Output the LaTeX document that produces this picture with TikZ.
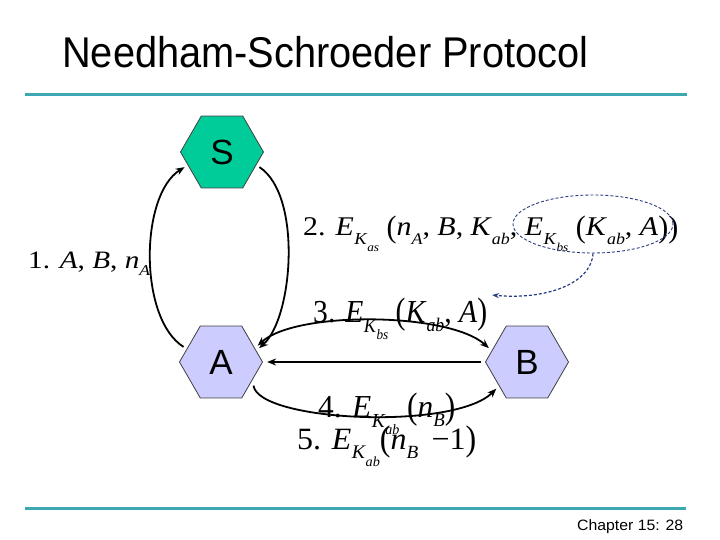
\documentclass[tikz,border=0pt]{standalone}
\usepackage{fontspec}
\setmainfont{Liberation Serif}
\newfontfamily\nsArial{Liberation Sans}
\usepackage{graphicx}
\usetikzlibrary{shapes.geometric,arrows.meta}
\newcommand\nsIt[1]{\textit{#1}}
\newcommand\nsSub[1]{\raisebox{-0.3em}{\scalebox{0.6}{\textit{#1}}}}
\newcommand\nsE[1]{\textit{E}\kern0.02em\raisebox{-0.32em}{\scalebox{0.62}{\textit{K}\kern-0.02em\raisebox{-0.38em}{\scalebox{0.72}{\textit{#1}}}}}}
\newcommand\nsLP{\raisebox{-0.06em}{\scalebox{1}[1.15]{(}}}
\newcommand\nsRP{\raisebox{-0.06em}{\scalebox{1}[1.15]{)}}}
\definecolor{tealline}{RGB}{60,168,178}
\definecolor{sgreen}{RGB}{0,204,153}
\definecolor{lav}{RGB}{204,204,255}
\definecolor{navy}{RGB}{40,60,130}
\begin{document}
\begin{tikzpicture}[x=1pt,y=-1pt,
  hexa/.style={regular polygon, regular polygon sides=6, minimum size=83pt, inner sep=0pt, outer sep=4pt, draw=black!75, line width=0.8pt, font=\nsArial\fontsize{35}{35}\selectfont},
  conn/.style={line width=1.8pt, -{Stealth[length=9pt,width=7pt]}},
  lbl/.style={anchor=base west, inner sep=0pt},
  rule/.style={line width=3pt, draw=tealline}]
\useasboundingbox (0,0) rectangle (720,540);
\fill[white] (0,0) rectangle (720,540);
% title and rules
\node[lbl, font=\nsArial\fontsize{43}{48}\selectfont] (title) at (62,68) {\resizebox{526pt}{\height}{Needham-Schroeder Protocol}};
\coordinate (r1a) at (25,95); \coordinate (r1b) at (687,95);
\draw[rule] (r1a) -- (r1b);
\coordinate (r2a) at (25,508); \coordinate (r2b) at (686,508);
\draw[rule] (r2a) -- (r2b);
\node[lbl, font=\nsArial\fontsize{15}{18}\selectfont] (foot) at (577,530) {\resizebox{106pt}{\height}{Chapter 15: 28}};
% labels
\node[lbl, font=\fontsize{25}{28}\selectfont] (l1) at (28,268) {\resizebox{122pt}{\height}{1. \nsIt{A}, \nsIt{B}, \nsIt{n}\nsSub{A}}};
\node[lbl, font=\fontsize{27}{30}\selectfont] (l2) at (303,236) {\resizebox{375pt}{\height}{2. \nsE{as} \nsLP\nsIt{n}\nsSub{A}, \nsIt{B}, \nsIt{K}\nsSub{ab}, \nsE{bs} \nsLP\nsIt{K}\nsSub{ab}, \nsIt{A}\nsRP\nsRP}};
\node[lbl, font=\fontsize{32}{36}\selectfont] (l3) at (313,322) {\resizebox{174pt}{\height}{3. \nsE{bs} \nsLP\nsIt{K}\nsSub{ab}, \nsIt{A}\nsRP}};
\node[lbl, font=\fontsize{32}{36}\selectfont] (l4) at (318,417) {\resizebox{137pt}{\height}{4. \nsE{ab} \nsLP\nsIt{n}\nsSub{B}\nsRP}};
\node[lbl, font=\fontsize{31}{36}\selectfont] (l5) at (297,449) {\resizebox{179pt}{\height}{5. \nsE{ab}\nsLP\nsIt{n}\nsSub{B} \,\textminus 1\nsRP}};
% hexagons
\node[hexa, fill=sgreen] (S) at (222,152) {S};
\node[hexa, fill=lav] (A) at (221,362) {A};
\node[hexa, fill=lav] (B) at (527,362) {B};
% connectors
\draw[conn] (A.158) .. controls +(-45,-28) and +(-45,28) .. (S.202);
\draw[conn] (S.338) .. controls +(43,28) and +(34,-30) .. (A.20);
\draw[conn, {Stealth[length=9pt,width=7pt]}-{Stealth[length=9pt,width=7pt]}] (A.24) .. controls +(38,-35) and +(-40,-36) .. (B.160);
\draw[conn] (B.west) -- (A.east);
\draw[conn] (A.-36) .. controls +(5,36) and +(-42,42) .. (B.221);
% dashed ellipse
\node[ellipse, draw=navy, dashed, dash pattern=on 3pt off 2pt, line width=0.9pt, minimum width=160pt, minimum height=58pt, inner sep=0pt] (ell) at (593,224) {};
\coordinate (tip) at (492,295);
\draw[navy, dashed, dash pattern=on 3pt off 2pt, line width=1.2pt, -{Stealth[length=7pt,width=5pt]}] (ell.south) .. controls +(-2,32) and +(50,5) .. (tip);
\end{tikzpicture}
\end{document}
